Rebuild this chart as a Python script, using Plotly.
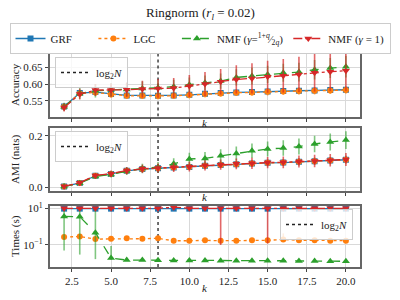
import plotly.graph_objects as go

k = list(range(2, 21))
log2N = 8

acc_grf = [0.533, 0.573, 0.576, 0.570, 0.566, 0.566, 0.565, 0.566, 0.568, 0.571, 0.573, 0.575, 0.576, 0.578, 0.579, 0.580, 0.581, 0.582, 0.583]
acc_lgc = [0.532, 0.572, 0.575, 0.569, 0.565, 0.565, 0.564, 0.565, 0.567, 0.570, 0.572, 0.574, 0.575, 0.577, 0.578, 0.579, 0.580, 0.581, 0.582]
acc_nmfq = [0.532, 0.572, 0.580, 0.583, 0.584, 0.587, 0.589, 0.592, 0.598, 0.604, 0.609, 0.620, 0.624, 0.629, 0.634, 0.636, 0.643, 0.648, 0.652]
acc_nmf1 = [0.530, 0.570, 0.582, 0.582, 0.583, 0.585, 0.587, 0.588, 0.594, 0.600, 0.607, 0.614, 0.617, 0.622, 0.625, 0.629, 0.634, 0.637, 0.640]
acc_err_grf = [0.008, 0.008, 0.007, 0.008, 0.008, 0.008, 0.008, 0.008, 0.008, 0.008, 0.008, 0.008, 0.008, 0.008, 0.008, 0.009, 0.009, 0.009, 0.009]
acc_err_lgc = [0.008, 0.008, 0.008, 0.009, 0.010, 0.010, 0.010, 0.010, 0.010, 0.010, 0.010, 0.010, 0.010, 0.011, 0.011, 0.011, 0.011, 0.011, 0.011]
acc_err_nmfq = [0.012, 0.016, 0.020, 0.020, 0.020, 0.021, 0.021, 0.021, 0.022, 0.022, 0.023, 0.024, 0.025, 0.026, 0.027, 0.028, 0.029, 0.030, 0.032]
acc_err_nmf1 = [0.012, 0.016, 0.018, 0.020, 0.022, 0.025, 0.028, 0.030, 0.033, 0.036, 0.038, 0.042, 0.045, 0.048, 0.050, 0.053, 0.056, 0.058, 0.060]

ami_grf = [0.004, 0.018, 0.046, 0.053, 0.065, 0.072, 0.075, 0.078, 0.080, 0.085, 0.088, 0.091, 0.093, 0.096, 0.097, 0.100, 0.102, 0.105, 0.108]
ami_lgc = [0.004, 0.018, 0.046, 0.053, 0.065, 0.072, 0.075, 0.078, 0.080, 0.085, 0.088, 0.091, 0.093, 0.096, 0.097, 0.100, 0.102, 0.105, 0.108]
ami_nmfq = [0.004, 0.017, 0.043, 0.051, 0.064, 0.074, 0.079, 0.092, 0.111, 0.113, 0.123, 0.132, 0.143, 0.150, 0.153, 0.159, 0.169, 0.177, 0.184]
ami_nmf1 = [0.005, 0.019, 0.047, 0.054, 0.066, 0.073, 0.076, 0.079, 0.081, 0.086, 0.089, 0.092, 0.094, 0.097, 0.098, 0.101, 0.103, 0.106, 0.109]
ami_err_grf = [0.003, 0.005, 0.008, 0.008, 0.009, 0.010, 0.010, 0.010, 0.011, 0.011, 0.012, 0.012, 0.013, 0.013, 0.013, 0.014, 0.014, 0.014, 0.015]
ami_err_lgc = [0.003, 0.005, 0.008, 0.008, 0.009, 0.010, 0.010, 0.010, 0.011, 0.011, 0.012, 0.012, 0.013, 0.013, 0.013, 0.014, 0.014, 0.014, 0.015]
ami_err_nmfq = [0.004, 0.007, 0.010, 0.012, 0.015, 0.018, 0.020, 0.022, 0.024, 0.025, 0.026, 0.027, 0.028, 0.029, 0.030, 0.031, 0.032, 0.033, 0.034]
ami_err_nmf1 = [0.004, 0.007, 0.010, 0.012, 0.014, 0.016, 0.017, 0.018, 0.019, 0.020, 0.020, 0.021, 0.022, 0.022, 0.023, 0.023, 0.024, 0.024, 0.025]

t_grf = [9.6, 9.6, 9.6, 9.6, 9.6, 9.6, 9.6, 9.6, 9.6, 9.6, 9.6, 9.6, 9.6, 9.6, 9.6, 9.6, 9.6, 9.6, 9.6]
t_lgc = [0.27, 0.29, 0.21, 0.22, 0.23, 0.22, 0.23, 0.17, 0.17, 0.18, 0.17, 0.17, 0.18, 0.18, 0.20, 0.18, 0.18, 0.17, 0.17]
t_nmfq = [3.6, 3.5, 0.47, 0.0195, 0.015, 0.015, 0.0148, 0.0143, 0.0143, 0.0142, 0.014, 0.014, 0.014, 0.0138, 0.0138, 0.0135, 0.0133, 0.013, 0.0129]
t_nmf1 = [10.0, 10.0, 10.0, 10.0, 10.0, 10.0, 10.0, 11.5, 10.0, 10.0, 10.0, 10.0, 10.0, 10.0, 10.0, 10.0, 10.0, 10.0, 10.0]
t_err_lo_grf = [0.8] * 19
t_err_hi_grf = [0.8] * 19
t_err_lo_lgc = [0.02, 0.02, 0.01, 0.01, 0.01, 0.01, 0.01, 0.01, 0.01, 0.01, 0.01, 0.01, 0.01, 0.01, 0.01, 0.01, 0.01, 0.01, 0.01]
t_err_hi_lgc = [0.02, 0.02, 0.01, 0.01, 0.01, 0.01, 0.01, 0.01, 0.01, 0.01, 0.01, 0.01, 0.01, 0.01, 0.23, 0.01, 0.01, 0.01, 0.01]
t_err_lo_nmfq = [3.55, 3.47, 0.453, 0.004, 0.001, 0.001, 0.001, 0.001, 0.001, 0.001, 0.001, 0.001, 0.001, 0.001, 0.001, 0.001, 0.001, 0.001, 0.001]
t_err_hi_nmfq = [3.5, 3.5, 9.5, 0.07, 0.002, 0.002, 0.002, 0.002, 0.002, 0.002, 0.002, 0.002, 0.002, 0.002, 0.002, 0.002, 0.002, 0.002, 0.002]
t_err_lo_nmf1 = [0.5, 0.5, 0.5, 0.5, 0.5, 0.5, 0.5, 0.5, 0.5, 0.5, 9.9, 0.5, 0.5, 9.88, 0.5, 0.5, 0.5, 0.5, 0.5]
t_err_hi_nmf1 = [1.0, 1.0, 1.0, 1.0, 1.0, 1.0, 1.0, 1.5, 1.0, 1.0, 1.0, 1.0, 1.0, 1.0, 1.0, 1.0, 1.0, 1.0, 1.0]

NB = "\u00a0"
names = ["GRF" + NB * 6, "LGC" + NB * 6,
         "NMF (<i>γ</i>=<sup>1+<i>q</i></sup>⁄<sub>2<i>q</i></sub>)", "NMF (<i>γ</i> = 1)"]
colors = ["#1f77b4", "#ff7f0e", "#2ca02c", "#d62728"]
ecolors = ["rgba(31,119,180,0.6)", "rgba(255,127,14,0.6)", "rgba(44,160,44,0.6)", "rgba(214,39,40,0.7)"]
dashes = ["solid", "dot", "dash", "dashdot"]
symbols = ["square", "circle", "triangle-up", "triangle-down"]

FONT = "Liberation Serif, DejaVu Serif, serif"
fig = go.Figure()

acc = [acc_grf, acc_lgc, acc_nmfq, acc_nmf1]
acc_e = [acc_err_grf, acc_err_lgc, acc_err_nmfq, acc_err_nmf1]
ami = [ami_grf, ami_lgc, ami_nmfq, ami_nmf1]
ami_e = [ami_err_grf, ami_err_lgc, ami_err_nmfq, ami_err_nmf1]
tim = [t_grf, t_lgc, t_nmfq, t_nmf1]
t_lo = [t_err_lo_grf, t_err_lo_lgc, t_err_lo_nmfq, t_err_lo_nmf1]
t_hi = [t_err_hi_grf, t_err_hi_lgc, t_err_hi_nmfq, t_err_hi_nmf1]

ranges = [(0.503, 0.69), (-0.013, 0.232), (10 ** -2.2, 10 ** 1.126)]

for p, (xa, ya) in enumerate([("x", "y"), ("x2", "y2"), ("x3", "y3")]):
    lo, hi = ranges[p]
    fig.add_trace(go.Scatter(x=[log2N, log2N], y=[lo, hi], mode="lines",
                             line=dict(color="#222", width=1.3, dash="dot"),
                             name="log<sub>2</sub><i>N</i>", xaxis=xa, yaxis=ya,
                             legend=["legend2", "legend3", "legend4"][p], showlegend=True))
    for i in range(4):
        if p == 0:
            y, ey = acc[i], dict(type="data", array=acc_e[i])
        elif p == 1:
            y, ey = ami[i], dict(type="data", array=ami_e[i])
        else:
            y, ey = tim[i], dict(type="data", symmetric=False, array=t_hi[i], arrayminus=t_lo[i])
        ey.update(color=ecolors[i], thickness=1.6, width=0)
        fig.add_trace(go.Scatter(
            x=k, y=y, mode="lines+markers", name=names[i], xaxis=xa, yaxis=ya,
            line=dict(color=colors[i], width=1.3, dash=dashes[i]),
            marker=dict(symbol=symbols[i], size=6 if i < 2 else 7, color=colors[i]),
            error_y=ey, showlegend=(p == 0), legend="legend"))

axcommon = dict(showline=True, linecolor="#666", linewidth=1.5, mirror=True,
                showgrid=True, gridcolor="#d9d9d9", gridwidth=1, zeroline=False,
                ticks="outside", ticklen=3.5, tickcolor="#444",
                tickfont=dict(family=FONT, size=11, color="#222"), automargin=False)
xd = [50 / 400, 360 / 400]
ydoms = [[1 - 116.5 / 300, 1 - 54 / 300], [1 - 191 / 300, 1 - 127.7 / 300], [1 - 267 / 300, 1 - 206 / 300]]
layout = dict(width=400, height=300, margin=dict(l=0, r=0, t=0, b=0),
              paper_bgcolor="white", plot_bgcolor="white",
              font=dict(family=FONT, size=11, color="#222"))
for j, nm in enumerate(["", "2", "3"]):
    layout["xaxis" + nm] = dict(axcommon, domain=xd, range=[1.1, 20.9], tick0=0, dtick=2.5,
                                tickformat=".1f", showticklabels=(j == 2),
                                anchor="y" + nm)
layout["yaxis"] = dict(axcommon, domain=ydoms[0], range=[0.503, 0.69], tickvals=[0.55, 0.6, 0.65],
                       ticktext=["0.55", "0.60", "0.65"], anchor="x")
layout["yaxis2"] = dict(axcommon, domain=ydoms[1], range=[-0.013, 0.232], tickvals=[0.0, 0.2],
                        ticktext=["0.0", "0.2"], anchor="x2")
layout["yaxis3"] = dict(axcommon, domain=ydoms[2], type="log", range=[-2.2, 1.126], tickvals=[0.1, 10],
                        ticktext=["10<sup>−1</sup>", "10<sup>1</sup>"], anchor="x3")
fig.update_layout(**layout)

fig.update_layout(
    legend=dict(orientation="h", x=0.5, xanchor="center", y=1 - 23 / 300, yanchor="top",
                bordercolor="#ccc", borderwidth=1, bgcolor="white",
                font=dict(family=FONT, size=11), itemwidth=30, tracegroupgap=0),
    legend2=dict(x=55 / 400, xanchor="left", y=1 - 57 / 300, yanchor="top",
                 bordercolor="#ccc", borderwidth=1, bgcolor="rgba(255,255,255,0.8)",
                 font=dict(family=FONT, size=11)),
    legend3=dict(x=55 / 400, xanchor="left", y=1 - 131 / 300, yanchor="top",
                 bordercolor="#ccc", borderwidth=1, bgcolor="rgba(255,255,255,0.8)",
                 font=dict(family=FONT, size=11)),
    legend4=dict(x=353 / 400, xanchor="right", y=1 - 209 / 300, yanchor="top",
                 bordercolor="#ccc", borderwidth=1, bgcolor="rgba(255,255,255,0.8)",
                 font=dict(family=FONT, size=11)),
)

ann = [
    dict(text="Ringnorm (<i>r<sub>l</sub></i> = 0.02)", x=200, y=13, size=13),
    dict(text="<i>k</i>", x=205, y=123, size=11),
    dict(text="<i>k</i>", x=205, y=197, size=11),
    dict(text="<i>k</i>", x=205, y=288, size=11),
]
for a in ann:
    fig.add_annotation(text=a["text"], x=a["x"] / 400, y=1 - a["y"] / 300, xref="paper", yref="paper",
                       showarrow=False, xanchor="center", yanchor="middle",
                       font=dict(family=FONT, size=a["size"], color="#222"))
for txt, yy in [("Accuracy", 85), ("AMI (nats)", 159), ("Times (s)", 236)]:
    fig.add_annotation(text=txt, x=15 / 400, y=1 - yy / 300, xref="paper", yref="paper",
                       showarrow=False, textangle=-90, xanchor="center", yanchor="middle",
                       font=dict(family=FONT, size=11, color="#222"))

fig.write_html("out.html", config={"displayModeBar": False},
               post_script="document.body.style.margin='0';document.body.style.overflow='hidden';")
